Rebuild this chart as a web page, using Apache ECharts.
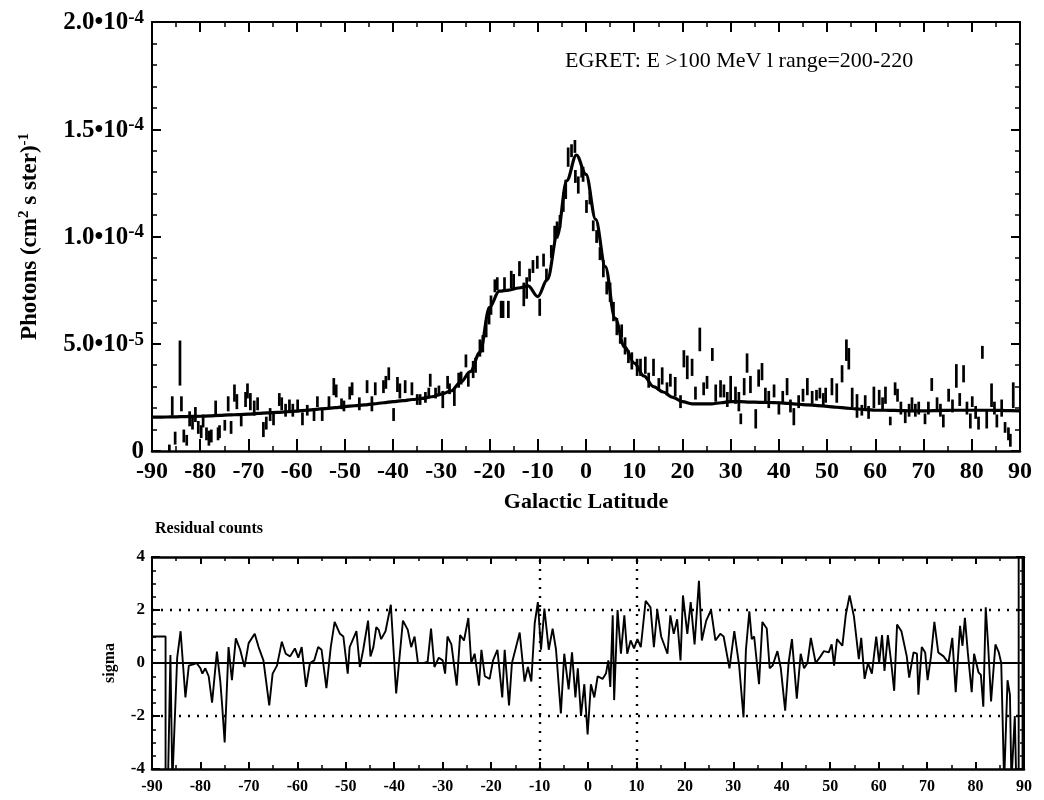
<!DOCTYPE html>
<html>
<head>
<meta charset="utf-8">
<script src="https://cdn.jsdelivr.net/npm/echarts@6.0.0/dist/echarts.min.js"></script>
<style>
  html, body { margin: 0; background: #fff; }
  #chart { width: 1044px; height: 800px; }
</style>
</head>
<body>
<div id="chart"></div>
<script>
  // flux values are in units of 1e-5 photons (cm^2 s ster)^-1
  const obsLat = [
    -86.4, -85.8, -85.2, -84.2, -83.9, -83.4, -82.8, -82.2, -81.6, -81.0,
    -80.4, -79.8, -79.4, -78.7, -78.2, -77.7, -76.8, -76.3, -76.0, -74.9,
    -74.2, -73.6, -72.9, -72.4, -71.5, -70.6, -70.2, -69.6, -68.8, -68.1,
    -66.9, -66.3, -65.5, -64.8, -63.6, -63.1, -62.3, -61.5, -60.8, -59.8,
    -58.8, -57.8, -56.4, -55.7, -54.7, -53.3, -52.3, -51.8, -50.7, -50.2,
    -49.0, -48.5, -47.0, -45.4, -44.4, -43.7, -42.0, -41.5, -40.9, -39.9,
    -39.1, -38.6, -37.5, -36.1, -35.0, -34.4, -33.3, -32.6, -32.3, -31.2,
    -30.5, -29.7, -28.7, -28.3, -27.3, -26.4, -25.9, -24.9, -24.4, -23.4,
    -22.9, -22.0, -21.4, -20.7, -20.1, -19.7, -18.9, -18.4, -17.6, -17.2,
    -16.9, -16.1, -15.5, -15.0, -13.8, -12.9, -12.3, -11.7, -11.0, -10.1,
    -9.6, -8.8, -8.2, -7.2, -6.5, -6.0, -5.4, -4.7, -4.2, -3.7,
    -3.0, -2.3, -2.2, -1.6, -0.9, -0.6, 0.1, 0.8, 1.5, 2.2,
    2.9, 3.6, 4.3, 5.0, 5.7, 6.4, 7.1, 7.4, 8.1, 8.8,
    9.5, 10.6, 11.3, 12.3, 13.0, 14.0, 15.1, 15.8, 16.8, 17.5,
    18.5, 19.6, 20.3, 21.0, 22.0, 22.7, 23.6, 24.4, 25.1, 26.2,
    26.9, 27.9, 28.6, 29.3, 30.0, 31.0, 31.7, 32.1, 32.8, 33.4,
    34.1, 35.2, 35.8, 36.5, 37.2, 37.9, 39.0, 40.0, 40.8, 41.7,
    42.4, 43.1, 44.1, 45.0, 45.9, 46.9, 47.8, 48.5, 49.2, 49.7,
    51.0, 52.0, 53.1, 54.0, 54.5, 55.2, 56.2, 57.2, 57.9, 58.6,
    59.7, 60.8, 61.5, 62.1, 63.1, 64.1, 64.6, 65.3, 66.2, 67.0,
    67.6, 68.3, 69.0, 70.3, 71.0, 71.7, 72.8, 73.5, 74.1, 75.2,
    76.0, 76.8, 77.5, 78.3, 79.0, 79.7, 80.1, 80.8, 81.4, 82.2,
    83.1, 84.1, 84.7, 85.2, 86.2, 86.9, 87.6, 88.0, 88.6
  ];
  const obsVal = [
    0.15, 2.1, 0.6, 4.1, 2.2, 0.7, 0.5, 1.5, 1.3, 1.7,
    1.1, 0.9, 1.4, 0.8, 0.6, 0.7, 2.0, 0.8, 0.9, 1.2,
    2.2, 1.1, 2.7, 2.3, 1.4, 2.4, 2.8, 2.3, 2.0, 2.2,
    1.0, 1.3, 1.7, 1.5, 2.4, 2.2, 1.9, 2.1, 1.9, 2.1,
    1.5, 1.9, 1.7, 2.3, 1.7, 2.3, 3.0, 2.8, 2.2, 2.1,
    2.7, 2.9, 2.2, 3.0, 2.2, 2.9, 3.0, 3.2, 3.6, 1.7,
    3.1, 2.8, 3.0, 2.9, 2.4, 2.4, 2.5, 2.7, 3.3, 2.7,
    2.8, 2.4, 3.2, 2.9, 2.5, 3.3, 3.4, 4.2, 3.3, 3.8,
    4.0, 4.8, 5.0, 5.7, 6.3, 6.8, 7.7, 7.8, 6.6, 6.6,
    7.8, 6.6, 8.0, 7.9, 8.5, 7.3, 7.6, 8.2, 8.6, 8.8,
    6.7, 8.9, 8.2, 9.3, 10.1, 10.3, 10.7, 11.6, 12.2, 13.7,
    14.0, 14.2, 12.8, 12.4, 13.0, 12.9, 11.4, 11.8, 10.5, 10.0,
    9.2, 8.5, 7.6, 7.4, 6.5, 5.8, 5.3, 5.6, 4.9, 4.4,
    4.2, 3.9, 3.9, 4.0, 3.3, 3.9, 3.1, 3.5, 2.9, 3.3,
    3.0, 2.3, 4.3, 3.9, 3.9, 2.7, 5.2, 2.9, 3.2, 4.5,
    2.7, 2.9, 2.8, 2.4, 2.9, 2.6, 2.3, 1.5, 3.0, 4.1,
    3.1, 1.5, 3.4, 3.7, 2.6, 2.4, 2.8, 2.0, 2.5, 3.0,
    2.1, 1.6, 2.3, 2.6, 3.0, 2.5, 2.6, 2.7, 2.4, 2.6,
    3.0, 2.7, 3.6, 4.7, 4.3, 2.5, 2.1, 1.9, 2.3, 1.8,
    2.5, 2.5, 2.2, 2.6, 1.4, 2.9, 2.6, 2.0, 1.6, 1.9,
    2.2, 1.9, 2.0, 1.5, 2.0, 3.1, 2.2, 1.9, 1.4, 2.6,
    2.1, 3.5, 2.4, 3.6, 2.0, 1.4, 2.3, 1.8, 1.3, 4.6,
    1.5, 2.6, 2.0, 1.4, 2.0, 1.1, 0.8, 0.5, 2.6
  ];
  const obsErr = [
    0.15, 0.45, 0.3, 1.05, 0.35, 0.3, 0.25, 0.35, 0.3, 0.35,
    0.3, 0.3, 0.3, 0.3, 0.35, 0.3, 0.35, 0.3, 0.3, 0.25,
    0.35, 0.3, 0.4, 0.35, 0.25, 0.35, 0.35, 0.4, 0.35, 0.3,
    0.35, 0.3, 0.3, 0.3, 0.3, 0.3, 0.3, 0.3, 0.3, 0.3,
    0.3, 0.25, 0.3, 0.25, 0.3, 0.25, 0.4, 0.3, 0.25, 0.25,
    0.3, 0.3, 0.3, 0.3, 0.35, 0.3, 0.3, 0.3, 0.3, 0.3,
    0.35, 0.35, 0.3, 0.3, 0.25, 0.25, 0.25, 0.25, 0.3, 0.25,
    0.25, 0.4, 0.3, 0.25, 0.4, 0.35, 0.3, 0.3, 0.3, 0.4,
    0.35, 0.4, 0.4, 0.4, 0.4, 0.45, 0.3, 0.3, 0.4, 0.4,
    0.3, 0.4, 0.4, 0.35, 0.35, 0.55, 0.5, 0.3, 0.3, 0.3,
    0.4, 0.3, 0.3, 0.3, 0.4, 0.4, 0.3, 0.45, 0.45, 0.45,
    0.3, 0.3, 0.3, 0.4, 0.25, 0.35, 0.3, 0.3, 0.25, 0.3,
    0.3, 0.4, 0.3, 0.45, 0.45, 0.4, 0.3, 0.3, 0.4, 0.3,
    0.4, 0.4, 0.4, 0.4, 0.35, 0.4, 0.3, 0.4, 0.3, 0.3,
    0.45, 0.3, 0.4, 0.55, 0.4, 0.3, 0.55, 0.3, 0.3, 0.3,
    0.4, 0.4, 0.3, 0.35, 0.6, 0.4, 0.45, 0.25, 0.4, 0.45,
    0.4, 0.45, 0.4, 0.4, 0.35, 0.4, 0.3, 0.3, 0.3, 0.4,
    0.3, 0.4, 0.3, 0.3, 0.4, 0.3, 0.25, 0.25, 0.3, 0.35,
    0.4, 0.45, 0.4, 0.5, 0.5, 0.45, 0.55, 0.25, 0.3, 0.3,
    0.5, 0.35, 0.3, 0.4, 0.2, 0.3, 0.3, 0.3, 0.3, 0.3,
    0.3, 0.3, 0.3, 0.25, 0.3, 0.3, 0.3, 0.3, 0.3, 0.3,
    0.3, 0.55, 0.3, 0.4, 0.3, 0.35, 0.25, 0.3, 0.3, 0.3,
    0.45, 0.55, 0.3, 0.3, 0.4, 0.25, 0.3, 0.3, 0.6
  ];

  // model curve, every 2 degrees from -90 to 90
  const modelStart = -90, modelStep = 2;
  const modelVal = [
    1.58, 1.58, 1.59, 1.6, 1.61, 1.62, 1.64, 1.66, 1.68, 1.7,
    1.72, 1.75, 1.78, 1.8, 1.83, 1.86, 1.9, 1.94, 1.98, 2.02,
    2.07, 2.11, 2.15, 2.2, 2.25, 2.3, 2.35, 2.4, 2.45, 2.53,
    2.65, 2.8, 3.2, 3.7, 4.6, 6.7, 7.45, 7.5, 7.6, 7.7,
    7.2, 8.0, 10.0, 12.6, 13.8, 12.9, 10.8, 8.6, 6.2, 4.85,
    4.1, 3.5, 3.0, 2.75, 2.5, 2.3, 2.2, 2.2, 2.2, 2.25,
    2.3, 2.3, 2.28, 2.27, 2.26, 2.25, 2.22, 2.18, 2.15, 2.12,
    2.08, 2.04, 2.0, 1.96, 1.93, 1.9, 1.9, 1.89, 1.88, 1.87,
    1.87, 1.88, 1.89, 1.9, 1.9, 1.9, 1.9, 1.9, 1.89, 1.88,
    1.87
  ];

  // residuals in sigma
  const resLat = [
    -90, -87.2, -87.2, -86.7, -86.2, -85.8, -85.4, -84.8, -84.1, -83.1,
    -82.4, -81.5, -80.8, -80.0, -79.6, -79.0, -78.3, -77.6, -76.6, -75.9,
    -75.5, -75.0, -74.2, -73.5, -72.7, -71.8, -70.9, -70.05, -68.8, -68.0,
    -67.0, -65.8, -65.1, -64.2, -63.2, -62.4, -61.5, -60.5, -59.8, -59.1,
    -58.2, -57.4, -56.5, -55.7, -55.0, -54.0, -53.1, -52.3, -51.2, -50.5,
    -49.6, -49.2, -47.8, -47.1, -46.4, -45.4, -44.9, -44.3, -43.7, -43.2,
    -42.7, -41.8, -40.7, -39.6, -38.2, -37.2, -36.5, -35.8, -35.1, -33.8,
    -33.1, -32.4, -31.7, -30.8, -30.0, -29.5, -29.0, -28.2, -27.1, -26.4,
    -25.6, -24.7, -24.1, -23.4, -22.5, -22.0, -21.3, -20.3, -19.6, -18.7,
    -17.7, -17.2, -16.3, -15.7, -15.0, -14.1, -13.1, -12.4, -11.7, -11.0,
    -10.35, -9.7, -9.0, -8.1, -7.3, -6.6, -5.6, -4.9, -4.0, -3.3,
    -2.6, -2.1, -1.45, -0.76, -0.08, 0.6, 1.3, 2.0, 3.0, 3.7,
    4.2, 4.6, 5.1, 5.4, 6.1, 6.8, 7.5, 8.1, 8.8, 9.5,
    10.2, 10.9, 11.9, 12.9, 13.6, 14.3, 15.1, 16.4, 17.0, 17.7,
    18.4, 19.1, 19.6, 20.5, 21.2, 22.0, 22.9, 23.5, 24.4, 25.4,
    26.3, 27.3, 28.0, 29.2, 30.2, 31.2, 32.1, 32.6, 33.3, 33.8,
    34.3, 35.3, 36.0, 36.9, 37.5, 38.1, 39.1, 39.8, 40.7, 41.4,
    42.1, 43.1, 43.9, 44.6, 45.3, 46.0, 47.0, 48.0, 48.7, 49.7,
    50.3, 50.8, 51.4, 52.5, 53.2, 54.0, 54.9, 55.9, 56.4, 57.1,
    57.8, 58.6, 59.5, 60.1, 60.7, 61.2, 61.9, 62.6, 63.2, 63.8,
    64.7, 65.8, 66.3, 67.2, 67.9, 68.2, 68.9, 69.6, 70.1, 70.8,
    71.5, 72.3, 73.4, 74.4, 75.2, 75.9, 76.8, 77.3, 77.8, 78.4,
    79.2, 79.7, 80.6, 81.1, 81.6, 82.1, 82.6, 83.2, 84.1, 84.8,
    85.3, 85.9, 86.6, 87.1, 87.4, 88.1, 88.4, 88.9, 88.9, 89.7,
    89.7
  ];
  const resSig = [
    1, 1, -4.5, -4.5, 0.3, -4.5, -4.5, 0.2, 1.2, -1.3,
    -0.1, -0.05, 0, -0.2, -0.4, -0.2, -0.5, -1.5, 0.43, -0.7,
    -1.65, -3.0, 0.6, -0.65, 0.93, 0.5, -0.15, 0.75, 1.1, 0.6,
    0.1, -1.6, -0.4, -0.1, 0.8, 0.35, 0.25, 0.55, 0.2, 0.6,
    -0.9, 0, 0.1, 0.6, 0.5, -0.95, 0.6, 1.55, 1.1, 1.0,
    -0.4, 0.6, 1.2, -0.15, 0.5, 1.6, 0.25, 0.6, 1.35, 1.25,
    0.9, 1.2, 2.2, -1.15, 1.6, 1.25, 0.6, 1.0, 0, 0,
    0.05, 1.3, -0.15, 0.2, 0.1, -0.4, 1.0, 0.7, -0.85, 1.05,
    0.85, 1.7, 0, 0.35, -0.85, 0.5, -0.5, -0.6, 0.1, 0.5,
    -1.3, 0.5, -1.6, 0, 0.5, 1.15, -0.7, -0.15, -0.7, 1.5,
    2.3, 0.5, 2.05, 0.5, 1.3, 0.5, -1.9, 0.35, -1.0, 0.4,
    -1.3, -0.2, -2.0, -0.8, -2.7, -0.8, -1.3, -0.5, -0.6, -0.4,
    0.1, -0.9, 1.8, -1.4, 2.0, 0.35, 1.8, 0.35, 0.85, 0.55,
    0.9, 0.6, 2.35, 2.1, 0.6, 2.0, 1.0, 0.35, 1.8, 1.1,
    1.65, 0.1, 2.55, 1.1, 2.3, 0.7, 3.1, 0.85, 1.6, 2.0,
    0.85, 1.1, 1.0, -0.2, 1.2, -0.1, -2.05, 0.5, 1.95, 0.9,
    1.0, -0.8, 1.55, 1.3, -0.2, -0.1, 0.45, -0.2, -1.8, 0,
    0.9, -1.35, 0.35, -0.2, 0, 0.95, 0, 0.25, 0.45, 0.4,
    0.7, -0.1, 0.9, 0.65, 1.8, 2.55, 1.75, 0.15, 0.95, -0.6,
    0, -0.4, 1.0, 0, 1.05, -0.3, 1.05, 0, -1.05, 1.45,
    1.2, 0.25, -0.55, 0.4, 0.35, -1.2, 0.6, 0.4, -0.65, 0.25,
    1.55, 0.4, 0.25, 0, 0.95, -1.1, 1.4, 0.65, 1.7, 0.4,
    -1.1, 0.35, -0.35, -0.45, -1.65, 2.1, 0.65, -1.45, 0.7, 0.4,
    0, -4.5, -0.65, -1.2, -4.5, -2, -4.5, -4.5, 4.5, 4.5,
    -4.5
  ];

  const latTicks = [-90, 90, 10];
  const fluxTicks = [0, 20, 5];
  const sigmaTicks = [-4, 4, 2];
  const dottedSigma = [2, -2];
  const dottedLat = [-10, 10];

  const FONT = '"Liberation Serif", "DejaVu Serif", serif';

  const chart = echarts.init(document.getElementById('chart'), null, { renderer: 'canvas' });

  const errData = obsLat.map((x, i) => [x, obsVal[i] - obsErr[i], obsVal[i] + obsErr[i]]);
  const modelData = modelVal.map((v, i) => [modelStart + i * modelStep, v]);
  const resData = resLat.map((x, i) => [x, resSig[i]]);

  const fluxLabel = function (v) {
    if (v === 0) return '{m|0}';
    const mant = { 20: '2.0', 15: '1.5', 10: '1.0', 5: '5.0' }[v];
    return '{m|' + mant + '•10}{s|' + (v >= 10 ? '-4' : '-5') + '}';
  };

  function frameAxis(extra) {
    return Object.assign({
      type: 'value',
      axisLine: { show: true, onZero: false, lineStyle: { color: '#000', width: 2 } },
      axisTick: { show: true, inside: true, lineStyle: { color: '#000', width: 2 } },
      minorTick: { show: true, lineStyle: { color: '#000', width: 1.5 } },
      splitLine: { show: false },
      minorSplitLine: { show: false },
      axisLabel: { show: false }
    }, extra);
  }

  const bold = { fontFamily: FONT, fontWeight: 'bold', color: '#000' };

  const option = {
    animation: false,
    backgroundColor: '#fff',
    grid: [
      { left: 152, right: 24, top: 22, height: 429, outerBoundsMode: 'none' },
      { left: 152, right: 20, top: 557, height: 212, outerBoundsMode: 'none' }
    ],
    xAxis: [
      frameAxis({
        gridIndex: 0, position: 'bottom',
        min: latTicks[0], max: latTicks[1], interval: latTicks[2],
        axisLine: { show: true, onZero: false, lineStyle: { color: '#000', width: 2.5 } },
        axisTick: { show: true, inside: true, length: 12, lineStyle: { color: '#000', width: 2 } },
        minorTick: { show: true, splitNumber: 2, length: 5, lineStyle: { color: '#000', width: 1.5 } },
        axisLabel: Object.assign({ show: true, fontSize: 24, margin: 9, showMinLabel: true, showMaxLabel: true }, bold),
        name: 'Galactic Latitude', nameLocation: 'middle', nameGap: 40,
        nameTextStyle: Object.assign({ fontSize: 22 }, bold)
      }),
      frameAxis({
        gridIndex: 0, position: 'top',
        min: latTicks[0], max: latTicks[1], interval: latTicks[2],
        axisTick: { show: true, inside: true, length: 10, lineStyle: { color: '#000', width: 2 } },
        minorTick: { show: true, splitNumber: 2, length: 5, lineStyle: { color: '#000', width: 1.5 } }
      }),
      frameAxis({
        gridIndex: 1, position: 'bottom',
        min: latTicks[0], max: latTicks[1], interval: latTicks[2],
        axisLine: { show: true, onZero: false, lineStyle: { color: '#000', width: 2.5 } },
        axisTick: { show: true, inside: true, length: 7, lineStyle: { color: '#000', width: 2 } },
        minorTick: { show: true, splitNumber: 2, length: 4, lineStyle: { color: '#000', width: 1.5 } },
        axisLabel: Object.assign({ show: true, fontSize: 16, margin: 10, showMinLabel: true, showMaxLabel: true }, bold)
      }),
      frameAxis({
        gridIndex: 1, position: 'top',
        min: latTicks[0], max: latTicks[1], interval: latTicks[2],
        axisLine: { show: true, onZero: false, lineStyle: { color: '#000', width: 2.5 } },
        axisTick: { show: true, inside: true, length: 7, lineStyle: { color: '#000', width: 2 } },
        minorTick: { show: true, splitNumber: 2, length: 4, lineStyle: { color: '#000', width: 1.5 } }
      })
    ],
    yAxis: [
      frameAxis({
        gridIndex: 0, position: 'left',
        min: fluxTicks[0], max: fluxTicks[1], interval: fluxTicks[2],
        axisTick: { show: true, inside: true, length: 9, lineStyle: { color: '#000', width: 2 } },
        minorTick: { show: true, splitNumber: 5, length: 5, lineStyle: { color: '#000', width: 1.5 } },
        axisLabel: {
          show: true, margin: 8, formatter: fluxLabel,
          rich: {
            m: Object.assign({ fontSize: 25, lineHeight: 27, verticalAlign: 'bottom' }, bold),
            s: Object.assign({ fontSize: 19, lineHeight: 19, padding: [0, 0, 13, 0], verticalAlign: 'top' }, bold)
          }
        },
        name: '{n|Photons (cm}{u|2}{n| s ster)}{u|-1}',
        nameLocation: 'middle', nameRotate: 90, nameGap: 110,
        nameTextStyle: {
          rich: {
            n: Object.assign({ fontSize: 23, lineHeight: 25, verticalAlign: 'bottom' }, bold),
            u: Object.assign({ fontSize: 15, lineHeight: 15, padding: [0, 0, 12, 0], verticalAlign: 'top' }, bold)
          }
        }
      }),
      frameAxis({
        gridIndex: 0, position: 'right',
        min: fluxTicks[0], max: fluxTicks[1], interval: fluxTicks[2],
        axisTick: { show: true, inside: true, length: 9, lineStyle: { color: '#000', width: 2 } },
        minorTick: { show: true, splitNumber: 5, length: 5, lineStyle: { color: '#000', width: 1.5 } }
      }),
      frameAxis({
        gridIndex: 1, position: 'left',
        min: sigmaTicks[0], max: sigmaTicks[1], interval: sigmaTicks[2],
        axisTick: { show: true, inside: true, length: 8, lineStyle: { color: '#000', width: 2 } },
        minorTick: { show: true, splitNumber: 4, length: 4, lineStyle: { color: '#000', width: 1.5 } },
        axisLabel: Object.assign({ show: true, fontSize: 17, margin: 7, showMinLabel: true, showMaxLabel: true }, bold),
        name: 'sigma', nameLocation: 'middle', nameRotate: 90, nameGap: 34,
        nameTextStyle: Object.assign({ fontSize: 16 }, bold)
      }),
      frameAxis({
        gridIndex: 1, position: 'right',
        min: sigmaTicks[0], max: sigmaTicks[1], interval: sigmaTicks[2],
        axisTick: { show: true, inside: true, length: 8, lineStyle: { color: '#000', width: 2 } },
        minorTick: { show: true, splitNumber: 4, length: 4, lineStyle: { color: '#000', width: 1.5 } }
      })
    ],
    graphic: [
      {
        type: 'text', left: 565, top: 50,
        style: { text: 'EGRET: E >100 MeV l range=200-220', font: '22px ' + FONT, fill: '#000' }
      },
      {
        type: 'text', left: 155, top: 521,
        style: { text: 'Residual counts', font: 'bold 16px ' + FONT, fill: '#000' }
      }
    ],
    series: [
      {
        name: 'data',
        type: 'custom',
        xAxisIndex: 0, yAxisIndex: 0,
        encode: { x: 0, y: [1, 2] },
        data: errData,
        silent: true,
        renderItem: function (params, api) {
          const p1 = api.coord([api.value(0), api.value(1)]);
          const p2 = api.coord([api.value(0), api.value(2)]);
          return {
            type: 'line',
            shape: { x1: p1[0], y1: p1[1], x2: p2[0], y2: p2[1] },
            style: { stroke: '#000', lineWidth: 2.7 }
          };
        }
      },
      {
        name: 'model',
        type: 'line',
        xAxisIndex: 0, yAxisIndex: 0,
        data: modelData,
        smooth: 0.35,
        smoothMonotone: 'x',
        showSymbol: false,
        silent: true,
        z: 3,
        lineStyle: { color: '#000', width: 3.2 }
      },
      {
        name: 'residual',
        type: 'line',
        xAxisIndex: 2, yAxisIndex: 2,
        data: resData,
        showSymbol: false,
        silent: true,
        clip: true,
        lineStyle: { color: '#000', width: 1.9 },
        markLine: {
          silent: true,
          symbol: ['none', 'none'],
          label: { show: false },
          lineStyle: { color: '#000', width: 2.4, type: [2, 7] },
          data: [{ yAxis: 0, lineStyle: { type: 'solid', width: 2.2, color: '#000' } }]
            .concat(dottedSigma.map(v => ({ yAxis: v })))
            .concat(dottedLat.map(v => ({ xAxis: v })))
        }
      }
    ]
  };

  chart.setOption(option);
</script>
</body>
</html>
